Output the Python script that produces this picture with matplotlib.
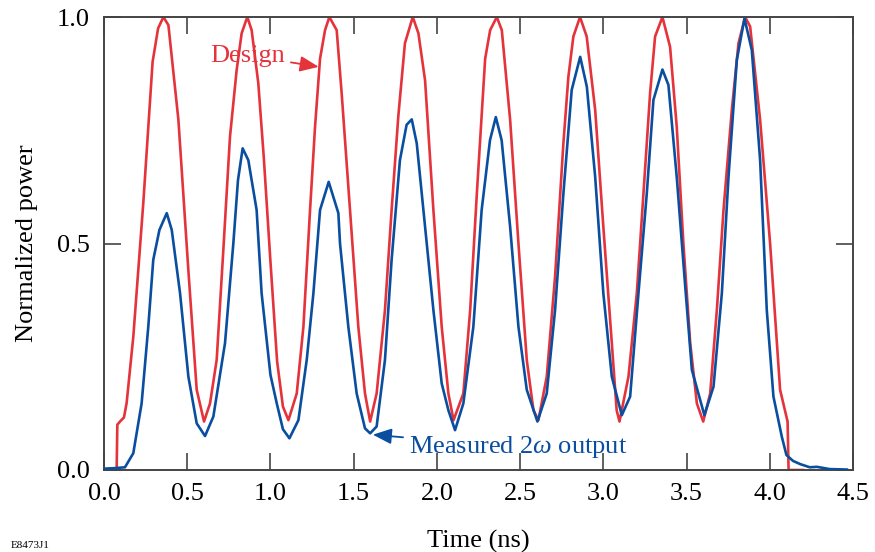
import matplotlib
matplotlib.use("Agg")
import matplotlib.pyplot as plt

plt.rcParams['font.family'] = ['Liberation Serif', 'DejaVu Serif']
plt.rcParams['mathtext.fontset'] = 'custom'
plt.rcParams['mathtext.rm'] = 'Liberation Serif'
plt.rcParams['mathtext.it'] = 'Liberation Serif:italic'

# Design curve (time ns, normalized power)
design_points = [
    (0.0, 0.0), (0.076, 0.0), (0.080, 0.10), (0.096, 0.107), (0.120, 0.116), (0.136, 0.148),
    (0.176, 0.294), (0.236, 0.589), (0.292, 0.901), (0.325, 0.975), (0.357, 1.0), (0.387, 0.982),
    (0.447, 0.773), (0.507, 0.44), (0.557, 0.177), (0.601, 0.107), (0.637, 0.147), (0.677, 0.243),
    (0.717, 0.486), (0.757, 0.736), (0.797, 0.883), (0.827, 0.964), (0.861, 1.0), (0.887, 0.971),
    (0.927, 0.854), (0.960, 0.69), (1.000, 0.46), (1.040, 0.24), (1.075, 0.14), (1.108, 0.11),
    (1.158, 0.169), (1.198, 0.316), (1.238, 0.574), (1.268, 0.758), (1.298, 0.908), (1.328, 0.971),
    (1.354, 1.0), (1.398, 0.971), (1.428, 0.831), (1.478, 0.574), (1.528, 0.316), (1.568, 0.169),
    (1.599, 0.107), (1.638, 0.169), (1.688, 0.353), (1.728, 0.574), (1.768, 0.78), (1.808, 0.942),
    (1.855, 1.0), (1.889, 0.964), (1.929, 0.86), (1.979, 0.574), (2.029, 0.316), (2.069, 0.169),
    (2.100, 0.11), (2.159, 0.169), (2.200, 0.353), (2.240, 0.61), (2.290, 0.908), (2.320, 0.971),
    (2.360, 1.0), (2.390, 0.971), (2.440, 0.773), (2.490, 0.5), (2.540, 0.243), (2.580, 0.132),
    (2.610, 0.11), (2.660, 0.206), (2.710, 0.427), (2.760, 0.721), (2.790, 0.868), (2.820, 0.957),
    (2.860, 1.0), (2.900, 0.957), (2.951, 0.795), (3.000, 0.537), (3.051, 0.28), (3.080, 0.132),
    (3.097, 0.107), (3.151, 0.206), (3.201, 0.39), (3.241, 0.61), (3.281, 0.832), (3.311, 0.957),
    (3.355, 1.0), (3.401, 0.934), (3.441, 0.758), (3.481, 0.5), (3.522, 0.28), (3.562, 0.147),
    (3.600, 0.107), (3.642, 0.169), (3.682, 0.353), (3.722, 0.574), (3.772, 0.795), (3.812, 0.942),
    (3.852, 1.0), (3.882, 0.979), (3.942, 0.773), (4.002, 0.5), (4.062, 0.177), (4.107, 0.107),
    (4.113, 0.0), (4.200, 0.0),
]

# Measured 2-omega output (time ns, normalized power)
measured_points = [
    (0.0, 0.003), (0.06, 0.004), (0.126, 0.006), (0.176, 0.037), (0.226, 0.147), (0.266, 0.316),
    (0.296, 0.464), (0.333, 0.53), (0.377, 0.567), (0.407, 0.53), (0.457, 0.39), (0.507, 0.206),
    (0.557, 0.103), (0.607, 0.075), (0.657, 0.118), (0.727, 0.28), (0.777, 0.5), (0.805, 0.64),
    (0.833, 0.71), (0.867, 0.684), (0.917, 0.574), (0.947, 0.39), (1.0, 0.21), (1.038, 0.147),
    (1.075, 0.09), (1.114, 0.07), (1.168, 0.11), (1.218, 0.243), (1.258, 0.39), (1.298, 0.574),
    (1.35, 0.636), (1.408, 0.567), (1.418, 0.5), (1.468, 0.316), (1.518, 0.169), (1.568, 0.092),
    (1.599, 0.081), (1.638, 0.096), (1.688, 0.243), (1.728, 0.464), (1.778, 0.684), (1.818, 0.762),
    (1.849, 0.774), (1.879, 0.721), (1.929, 0.537), (1.979, 0.353), (2.029, 0.191), (2.069, 0.132),
    (2.109, 0.088), (2.159, 0.147), (2.219, 0.316), (2.269, 0.574), (2.319, 0.728), (2.354, 0.779),
    (2.389, 0.728), (2.44, 0.537), (2.49, 0.316), (2.54, 0.177), (2.604, 0.107), (2.66, 0.169),
    (2.71, 0.353), (2.76, 0.61), (2.81, 0.839), (2.861, 0.912), (2.901, 0.846), (2.951, 0.647),
    (3.0, 0.39), (3.051, 0.206), (3.111, 0.121), (3.161, 0.162), (3.211, 0.39), (3.261, 0.61),
    (3.301, 0.817), (3.355, 0.884), (3.391, 0.85), (3.441, 0.647), (3.492, 0.405), (3.532, 0.221),
    (3.607, 0.121), (3.662, 0.184), (3.712, 0.39), (3.752, 0.647), (3.802, 0.905), (3.848, 0.997),
    (3.892, 0.927), (3.942, 0.684), (3.982, 0.353), (4.022, 0.162), (4.072, 0.074), (4.10, 0.033),
    (4.14, 0.02), (4.183, 0.013), (4.24, 0.006), (4.283, 0.007), (4.36, 0.002), (4.463, 0.001),
]

x_ticks = [0.0, 0.5, 1.0, 1.5, 2.0, 2.5, 3.0, 3.5, 4.0, 4.5]
y_ticks = [0.0, 0.5, 1.0]

RED = '#E5333C'
BLUE = '#0A4EA0'
FS = 19

dt, dv = zip(*design_points)
mt, mv = zip(*measured_points)

fig = plt.figure(figsize=(8.75, 5.52), dpi=100)
ax = fig.add_axes([104/875, 1 - 470/552, (853 - 104)/875, (470 - 17)/552])

ax.plot(dt, dv, color=RED, lw=1.9, solid_joinstyle='round', zorder=2)
ax.plot(mt, mv, color=BLUE, lw=1.9, solid_joinstyle='round', zorder=3)

ax.set_xlim(0, 4.5)
ax.set_ylim(0, 1.0)
ax.set_xticks(x_ticks)
ax.set_xticklabels([f"{v:.1f}" for v in x_ticks])
ax.set_yticks(y_ticks)
ax.set_yticklabels([f"{v:.1f}" for v in y_ticks])
ax.tick_params(direction='in', length=12, width=1.2, color='#444444',
               top=True, right=True, labelsize=FS, pad=10)
ax.tick_params(axis='x', pad=9)
for s in ax.spines.values():
    s.set_color('#444444')
    s.set_linewidth(1.4)

ax.set_xlabel('Time (ns)', fontsize=FS, labelpad=18)
ax.set_ylabel('Normalized power', fontsize=FS, labelpad=14)

ax.annotate('Design', xy=(1.29, 0.89), xytext=(0.865, 0.915),
            color=RED, fontsize=FS, ha='center', va='center',
            arrowprops=dict(arrowstyle='-|>,head_length=0.6,head_width=0.25',
                            color=RED, lw=1.3, shrinkA=2, shrinkB=0))
ax.annotate(r'Measured 2$\omega$ output', xy=(1.615, 0.078), xytext=(1.83, 0.05),
            color=BLUE, fontsize=FS, ha='left', va='center',
            arrowprops=dict(arrowstyle='-|>,head_length=0.6,head_width=0.25',
                            color=BLUE, lw=1.3, shrinkA=2, shrinkB=0))

fig.text(0.012, 2/552, 'E8473J1', fontsize=8, va='bottom', ha='left')

fig.savefig('out.png', dpi=100)
